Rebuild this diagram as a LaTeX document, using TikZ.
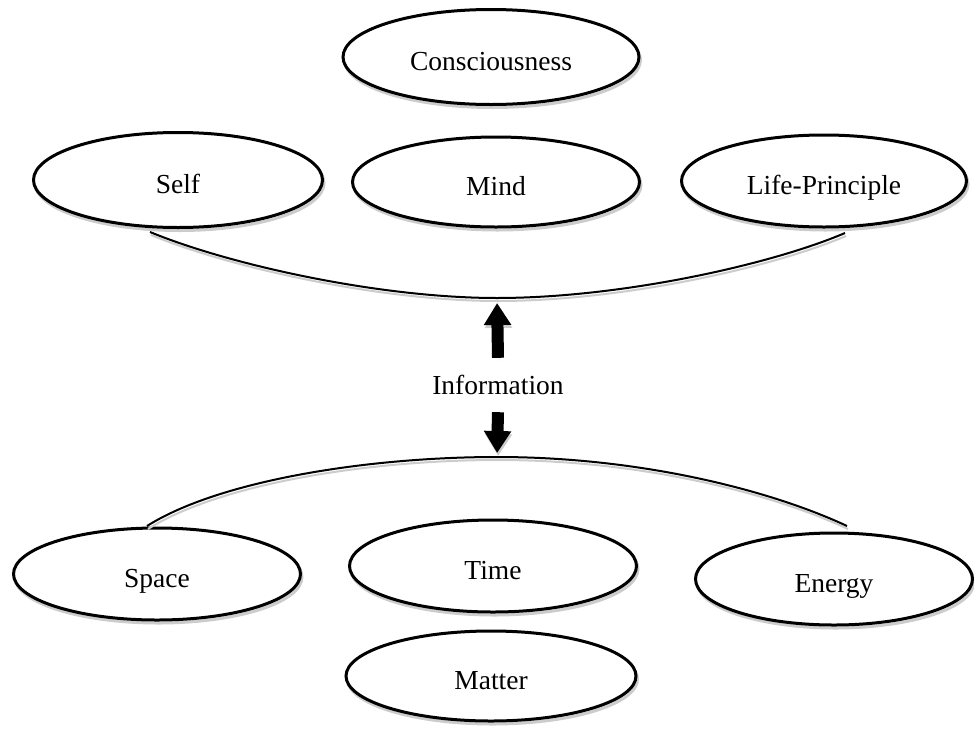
\documentclass[tikz,border=0pt]{standalone}
\usepackage{fontspec}
\setmainfont{Liberation Serif}
\usetikzlibrary{shapes.geometric, shadows, arrows.meta}

\begin{document}
\begin{tikzpicture}
      [
        x=1pt, y=-1pt,
        concept/.style={ellipse, draw=black, line width=3pt, fill=white,
          inner sep=0pt, minimum width=287pt, minimum height=92pt,
          text height=26pt, text depth=0pt,
          font=\fontsize{27.5}{33}\selectfont,
          drop shadow={fill=none, draw=black!20, line width=3pt, opacity=1,
            shadow xshift=1.5pt, shadow yshift=-3pt}},
        bridge/.style={line width=2pt,
          preaction={draw=black!20, line width=2pt,
            transform canvas={shift={(1pt,-3pt)}}}},
        bigarrow/.style={line width=12pt, -{Triangle[width=26pt,length=22pt]},
          preaction={draw=black!20, transform canvas={shift={(1pt,-3pt)}}}},
        word/.style={inner sep=0pt, text height=18pt, text depth=0pt,
          font=\fontsize{27.5}{33}\selectfont}
      ]
      \useasboundingbox (0,0) rectangle (974,734);
      % upper row
      \node [concept, minimum width=296pt, minimum height=95pt] (consc) at (491,57) {Consciousness};
      \node [concept, minimum width=289pt, minimum height=95pt] (self) at (178,180) {Self};
      \node [concept, minimum width=287pt, minimum height=90pt] (mind) at (496,182) {Mind};
      \node [concept, minimum width=285pt] (life) at (824,181) {Life-Principle};
      % lower row
      \node [concept] (space) at (157,574) {Space};
      \node [concept] (time) at (493,566) {Time};
      \node [concept, minimum width=277pt] (energy) at (834,579) {Energy};
      \node [concept, minimum width=290pt, minimum height=90pt] (matter) at (491,676) {Matter};
      % middle
      \node [word] (info) at (498,385) {Information};
      % curves
      \coordinate (upleft) at (150,232);
      \coordinate (above) at (497,298);
      \coordinate (upright) at (845,233);
      \coordinate (lowleft) at (147,526);
      \coordinate (below) at (497,457);
      \coordinate (lowright) at (847,526);
      \draw [bridge]
      (upleft) .. controls (230,265) and (380,298) .. (above)
      .. controls (620,298) and (770,265) .. (upright);
      \draw [bridge]
      (lowleft) .. controls (220,480) and (370,457) .. (below)
      .. controls (640,457) and (770,490) .. (lowright);
      % arrows
      \draw [bigarrow, shorten >=5pt] ([yshift=18pt]info.north) -- (above);
      \draw [bigarrow, shorten >=4pt] ([yshift=-18pt]info.south) -- (below);
    \end{tikzpicture}
\end{document}
